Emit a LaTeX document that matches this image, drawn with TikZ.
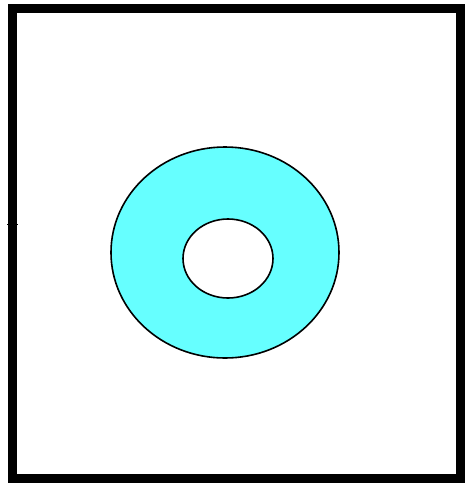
\documentclass[tikz,border=0pt]{standalone}
\usepackage{tikz}
\definecolor{ringcyan}{HTML}{66FFFF}

\begin{document}
\begin{tikzpicture}[x=1pt, y=-1pt, line join=miter]
    \useasboundingbox (0, 0) rectangle (474, 483);
    % Frame
    \draw[line width=9pt] (12.5, 8.5) rectangle (460.5, 478);
    \draw[line width=1pt] (7, 224) -- (18, 224); % small mark on the left side

    % Ring
    \draw[line width=1.6pt, fill=ringcyan] (225, 252.5) ellipse (114 and 105.5);
    \draw[line width=1.6pt, fill=white] (228, 258.5) ellipse (45 and 39.5);
\end{tikzpicture}
\end{document}
